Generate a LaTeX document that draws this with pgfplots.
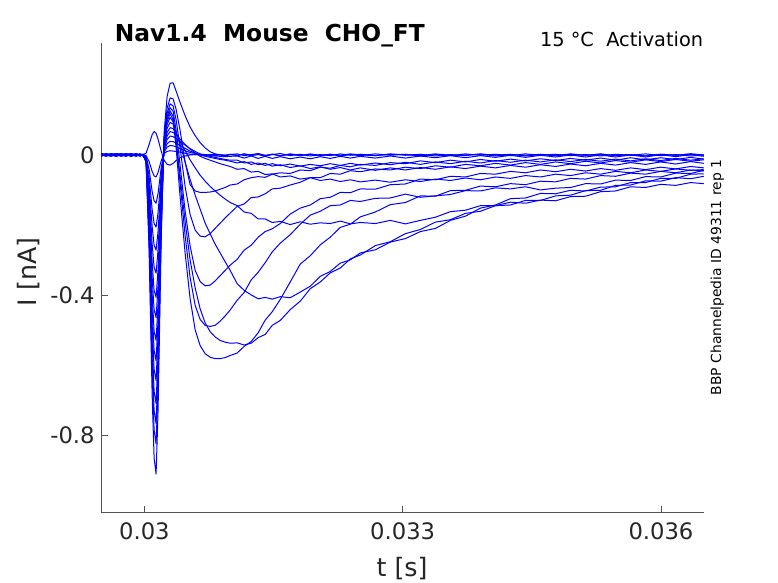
\documentclass[border=0pt]{standalone}
\usepackage{fontspec}
\setmainfont{DejaVu Sans}
\usepackage{pgfplots}
\usepackage{pgfplotstable}
\pgfplotsset{compat=1.18}
\definecolor{axgray}{RGB}{38,38,38}
\definecolor{trblue}{RGB}{0,0,255}
\pgfplotstableread{
t a0 a1 a2 a3 a4 a5 a6 a7 a8 a9 a10 a11 a12 a13 a14
0.029500 0.002 -0.003 0.001 0.004 -0.002 0.000 0.003 -0.004 0.001 -0.001 0.003 -0.002 0.004 0.000 -0.003
0.029555 -0.001 0.002 -0.004 0.001 0.003 -0.003 0.000 0.002 -0.002 0.004 -0.001 0.001 -0.003 0.003 0.002
0.029613 0.003 0.000 0.002 -0.003 0.001 0.004 -0.002 -0.001 0.003 0.000 -0.004 0.003 0.001 -0.002 0.000
0.029671 0.000 -0.004 0.003 0.002 -0.003 0.001 0.004 0.000 -0.003 0.002 0.001 -0.004 0.002 0.004 -0.001
0.029729 -0.002 0.003 -0.001 0.000 0.004 -0.002 0.001 0.003 0.000 -0.003 0.002 0.000 -0.004 0.001 0.003
0.029787 0.004 0.001 0.000 -0.004 -0.001 0.003 -0.003 0.001 0.004 0.001 -0.002 0.002 0.000 -0.003 0.001
0.029845 0.001 -0.002 0.004 0.003 0.000 -0.004 0.002 -0.003 -0.001 0.003 0.004 -0.001 0.003 0.002 -0.004
0.029903 -0.003 0.004 -0.002 0.001 0.002 0.000 -0.001 0.004 0.002 -0.004 0.000 0.003 -0.002 0.000 0.002
0.029950 0.002 -0.001 0.001 -0.002 -0.004 0.002 0.003 -0.002 0.000 0.001 -0.003 -0.002 0.001 0.003 -0.001
0.029985 0.001 0.001 -0.003 0.000 0.002 -0.001 -0.002 0.001 -0.003 0.002 0.001 0.000 -0.001 -0.002 0.000
0.030020 0.005 -0.002 -0.004 -0.005 -0.007 -0.008 -0.010 -0.011 -0.012 -0.014 -0.015 -0.016 -0.018 -0.019 -0.021
0.030055 0.030 -0.019 -0.041 -0.062 -0.082 -0.101 -0.122 -0.140 -0.159 -0.176 -0.194 -0.213 -0.230 -0.248 -0.274
0.030090 0.058 -0.047 -0.104 -0.155 -0.204 -0.254 -0.305 -0.349 -0.398 -0.441 -0.484 -0.533 -0.576 -0.620 -0.684
0.030113 0.067 -0.060 -0.131 -0.196 -0.258 -0.321 -0.387 -0.442 -0.504 -0.559 -0.613 -0.675 -0.730 -0.785 -0.866
0.030136 0.062 -0.063 -0.138 -0.206 -0.272 -0.338 -0.407 -0.465 -0.530 -0.588 -0.645 -0.711 -0.768 -0.826 -0.912
0.030159 0.045 -0.050 -0.110 -0.165 -0.218 -0.270 -0.326 -0.372 -0.424 -0.470 -0.516 -0.569 -0.614 -0.661 -0.730
0.030194 0.012 -0.018 -0.039 -0.058 -0.076 -0.095 -0.114 -0.130 -0.148 -0.165 -0.181 -0.199 -0.215 -0.231 -0.255
0.030229 -0.015 0.004 0.008 0.012 0.017 0.020 0.024 0.029 0.033 0.036 0.039 0.041 0.045 0.050 0.063
0.030264 -0.027 0.010 0.022 0.032 0.044 0.054 0.064 0.076 0.087 0.096 0.103 0.110 0.119 0.133 0.167
0.030299 -0.029 0.012 0.027 0.039 0.054 0.067 0.078 0.093 0.107 0.118 0.126 0.135 0.146 0.163 0.205
0.030334 -0.024 0.011 0.026 0.038 0.052 0.064 0.075 0.088 0.095 0.100 0.110 0.125 0.140 0.160 0.206
0.030369 -0.016 0.010 0.023 0.034 0.047 0.058 0.062 0.065 0.040 0.020 0.040 0.070 0.100 0.130 0.182
0.030415 -0.008 0.008 0.018 0.027 0.038 0.045 0.038 0.030 -0.060 -0.120 -0.080 -0.030 0.020 0.070 0.150
0.030473 -0.003 0.005 0.012 0.019 0.028 0.030 0.012 -0.020 -0.190 -0.280 -0.230 -0.160 -0.090 -0.020 0.112
0.030531 0.000 0.002 0.007 0.011 0.018 0.017 -0.014 -0.070 -0.300 -0.410 -0.350 -0.260 -0.170 -0.085 0.080
0.030590 0.001 0.001 0.004 0.005 0.010 0.006 -0.037 -0.115 -0.380 -0.500 -0.430 -0.330 -0.215 -0.103 0.055
0.030648 0.002 0.000 0.001 0.000 0.003 -0.004 -0.058 -0.155 -0.440 -0.545 -0.470 -0.362 -0.232 -0.107 0.035
0.030706 0.001 -0.001 -0.001 -0.004 -0.001 -0.010 -0.075 -0.195 -0.480 -0.568 -0.487 -0.374 -0.234 -0.107 0.020
0.030764 0.000 0.001 -0.002 -0.007 -0.004 -0.015 -0.090 -0.225 -0.505 -0.578 -0.490 -0.372 -0.225 -0.106 0.009
0.030822 0.002 -0.002 -0.003 -0.010 -0.007 -0.020 -0.103 -0.255 -0.520 -0.582 -0.487 -0.360 -0.210 -0.103 0.003
0.030880 0.001 0.000 -0.004 -0.013 -0.010 -0.025 -0.115 -0.280 -0.530 -0.582 -0.475 -0.345 -0.195 -0.098 0.000
0.030938 -0.001 -0.001 -0.005 -0.015 -0.013 -0.029 -0.126 -0.305 -0.535 -0.579 -0.460 -0.330 -0.180 -0.093 -0.002
0.030997 0.001 0.002 -0.004 -0.018 -0.015 -0.033 -0.136 -0.330 -0.538 -0.573 -0.443 -0.315 -0.166 -0.086 0.001
0.031078 0.003 -0.002 -0.003 -0.023 -0.015 -0.041 -0.145 -0.368 -0.537 -0.566 -0.415 -0.298 -0.147 -0.083 -0.001
0.031159 -0.002 0.003 -0.009 -0.019 -0.023 -0.039 -0.163 -0.387 -0.543 -0.547 -0.393 -0.272 -0.140 -0.071 0.003
0.031241 0.001 -0.001 -0.003 -0.027 -0.020 -0.049 -0.167 -0.400 -0.538 -0.533 -0.357 -0.258 -0.122 -0.065 -0.002
0.031322 0.004 0.001 -0.010 -0.023 -0.028 -0.047 -0.183 -0.411 -0.522 -0.508 -0.335 -0.235 -0.120 -0.062 0.002
0.031403 -0.001 -0.003 -0.004 -0.030 -0.024 -0.056 -0.183 -0.407 -0.513 -0.472 -0.308 -0.219 -0.111 -0.064 -0.003
0.031485 0.002 0.002 -0.010 -0.025 -0.032 -0.054 -0.193 -0.412 -0.487 -0.448 -0.277 -0.211 -0.097 -0.055 0.001
0.031578 -0.003 -0.002 -0.005 -0.031 -0.028 -0.063 -0.190 -0.405 -0.473 -0.413 -0.252 -0.196 -0.095 -0.051 0.004
0.031694 0.002 0.003 -0.011 -0.026 -0.036 -0.060 -0.199 -0.408 -0.442 -0.363 -0.228 -0.169 -0.086 -0.053 -0.002
0.031810 -0.002 -0.001 -0.006 -0.032 -0.031 -0.069 -0.191 -0.392 -0.418 -0.312 -0.198 -0.152 -0.078 -0.043 0.002
0.031927 0.003 0.001 -0.011 -0.027 -0.039 -0.065 -0.198 -0.375 -0.382 -0.288 -0.172 -0.143 -0.065 -0.045 -0.003
0.032043 -0.001 -0.003 -0.005 -0.031 -0.034 -0.073 -0.194 -0.347 -0.363 -0.257 -0.161 -0.125 -0.065 -0.035 0.001
0.032159 0.002 0.002 -0.010 -0.025 -0.041 -0.069 -0.196 -0.333 -0.337 -0.235 -0.145 -0.121 -0.053 -0.038 -0.002
0.032276 -0.003 -0.001 -0.004 -0.030 -0.036 -0.076 -0.189 -0.309 -0.323 -0.207 -0.143 -0.107 -0.055 -0.030 0.003
0.032392 0.001 0.003 -0.009 -0.024 -0.043 -0.071 -0.197 -0.300 -0.297 -0.198 -0.130 -0.108 -0.045 -0.034 -0.001
0.032508 -0.002 0.000 -0.004 -0.029 -0.037 -0.077 -0.193 -0.280 -0.286 -0.177 -0.133 -0.097 -0.048 -0.027 0.002
0.032683 0.003 -0.002 -0.009 -0.023 -0.044 -0.072 -0.196 -0.271 -0.259 -0.163 -0.124 -0.098 -0.040 -0.030 -0.002
0.032857 -0.001 0.002 -0.003 -0.028 -0.037 -0.078 -0.187 -0.249 -0.248 -0.142 -0.123 -0.085 -0.043 -0.022 0.003
0.033031 0.002 0.001 -0.009 -0.021 -0.043 -0.071 -0.197 -0.239 -0.225 -0.136 -0.112 -0.083 -0.035 -0.025 -0.001
0.033206 -0.003 -0.002 -0.003 -0.027 -0.036 -0.076 -0.187 -0.219 -0.213 -0.117 -0.121 -0.069 -0.039 -0.017 0.002
0.033380 0.001 0.003 -0.008 -0.020 -0.041 -0.069 -0.178 -0.210 -0.192 -0.118 -0.117 -0.071 -0.031 -0.022 -0.003
0.033555 -0.002 -0.001 -0.002 -0.025 -0.034 -0.073 -0.162 -0.187 -0.185 -0.102 -0.113 -0.061 -0.035 -0.015 0.001
0.033729 0.003 0.000 -0.008 -0.018 -0.039 -0.066 -0.158 -0.175 -0.167 -0.101 -0.102 -0.063 -0.027 -0.020 -0.002
0.033903 -0.001 0.002 -0.002 -0.023 -0.032 -0.071 -0.145 -0.152 -0.161 -0.089 -0.103 -0.053 -0.031 -0.013 0.003
0.034078 0.002 -0.003 -0.007 -0.016 -0.037 -0.063 -0.145 -0.143 -0.145 -0.091 -0.094 -0.055 -0.024 -0.018 -0.001
0.034252 -0.002 0.001 -0.001 -0.021 -0.030 -0.067 -0.135 -0.125 -0.143 -0.082 -0.097 -0.047 -0.029 -0.012 0.002
0.034427 0.003 -0.001 -0.007 -0.015 -0.035 -0.059 -0.138 -0.123 -0.130 -0.085 -0.091 -0.051 -0.022 -0.017 -0.003
0.034601 -0.001 0.002 -0.001 -0.020 -0.028 -0.063 -0.129 -0.110 -0.130 -0.075 -0.100 -0.043 -0.027 -0.011 0.001
0.034776 0.002 -0.002 -0.006 -0.014 -0.033 -0.055 -0.131 -0.111 -0.117 -0.077 -0.095 -0.048 -0.020 -0.016 -0.002
0.034950 -0.002 0.003 0.000 -0.019 -0.026 -0.059 -0.119 -0.101 -0.115 -0.067 -0.093 -0.041 -0.025 -0.010 0.002
0.035124 0.001 -0.001 -0.006 -0.013 -0.031 -0.051 -0.118 -0.103 -0.102 -0.069 -0.082 -0.046 -0.018 -0.015 -0.001
0.035299 -0.003 0.002 0.000 -0.018 -0.024 -0.055 -0.105 -0.092 -0.101 -0.059 -0.083 -0.039 -0.023 -0.009 0.003
0.035473 0.002 -0.002 -0.006 -0.012 -0.029 -0.047 -0.103 -0.091 -0.087 -0.061 -0.072 -0.044 -0.016 -0.015 -0.002
0.035648 -0.001 0.001 0.000 -0.017 -0.022 -0.051 -0.091 -0.079 -0.086 -0.052 -0.073 -0.037 -0.021 -0.008 0.001
0.035822 0.003 -0.003 -0.006 -0.011 -0.027 -0.043 -0.093 -0.079 -0.074 -0.055 -0.062 -0.042 -0.014 -0.014 -0.003
0.035997 -0.002 0.002 0.001 -0.016 -0.020 -0.047 -0.084 -0.067 -0.075 -0.047 -0.063 -0.035 -0.019 -0.008 0.002
0.036171 0.001 -0.001 -0.005 -0.010 -0.026 -0.040 -0.087 -0.067 -0.065 -0.051 -0.052 -0.040 -0.013 -0.013 -0.001
0.036345 -0.003 0.003 0.001 -0.015 -0.019 -0.044 -0.079 -0.055 -0.068 -0.043 -0.053 -0.033 -0.018 -0.007 0.003
0.036497 0.000 -0.001 -0.004 -0.011 -0.024 -0.042 -0.082 -0.054 -0.061 -0.046 -0.044 -0.037 -0.014 -0.012 0.000
}\traces

\begin{document}
\begin{tikzpicture}
\path[use as bounding box] (-76pt,-53pt) rectangle (507.5pt,384.2pt);
\begin{axis}[
  at={(0,0)}, anchor=south west,
  scale only axis, width=452pt, height=352pt,
  xmin=0.0295, xmax=0.0365, ymin=-1.021, ymax=0.32,
  axis x line*=bottom, axis y line*=left,
  xtick={0.03,0.033,0.036}, xticklabels={0.03,0.033,0.036},
  ytick={-0.8,-0.4,0}, yticklabels={-0.8,-0.4,0},
  scaled x ticks=false, scaled y ticks=false,
  xtick pos=left, ytick pos=left,
  tick align=inside, major tick length=4.7pt,
  axis line style={draw=axgray!80, line width=0.5pt},
  tick style={draw=axgray!80, line width=0.5pt},
  tick label style={font=\fontsize{17}{20}\selectfont, text=axgray},
  xticklabel style={yshift=-4.5pt},
  yticklabel style={xshift=-1.5pt},
  xlabel={t [s]}, ylabel={I [nA]},
  label style={font=\fontsize{19}{22}\selectfont, text=axgray},
  xlabel style={at={(axis description cs:0.499,-0.119)}, anchor=center},
  ylabel style={at={(axis description cs:-0.12,0.512)}, anchor=center},
]
\pgfplotsinvokeforeach{0,...,14}{
  \addplot[trblue, line width=0.75pt, line join=round] table[x=t, y=a#1] {\traces};
}
\end{axis}
\node[inner sep=0pt, anchor=base west, font=\bfseries\fontsize{17.5}{20}\selectfont] at (10pt,352.7pt) {Nav1.4\ \ Mouse\ \ CHO\_FT};
\node[inner sep=0pt, anchor=base east, font=\fontsize{14.5}{17}\selectfont] at (451.5pt,349pt) {15 °C\ \ Activation};
\node[rotate=90, font=\fontsize{10.4}{12}\selectfont] at (462pt,176pt) {BBP Channelpedia ID 49311 rep 1};
\end{tikzpicture}
\end{document}
